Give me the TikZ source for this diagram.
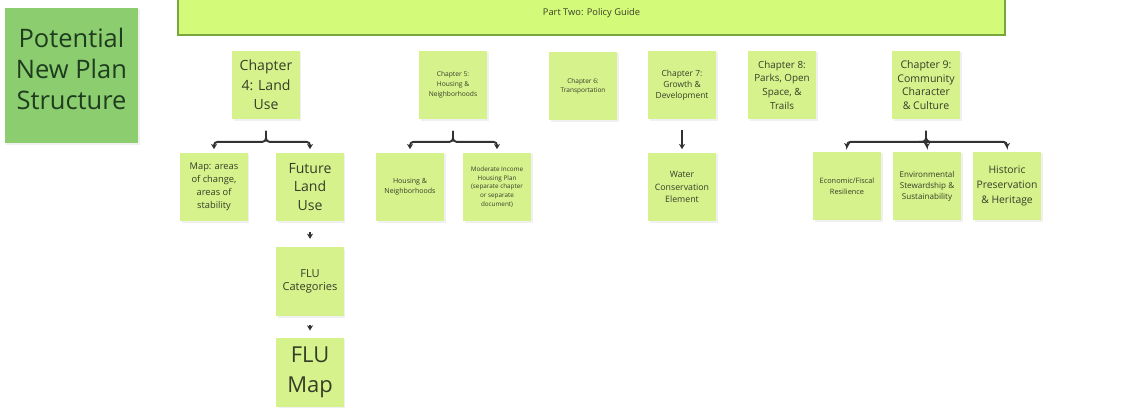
\documentclass[tikz,border=0pt]{standalone}
\usepackage{fontspec}
\setmainfont{Open Sans}
\usetikzlibrary{positioning, arrows.meta, shadows}

\definecolor{stickyfill}{RGB}{214,242,140}
\definecolor{barfill}{RGB}{212,250,122}
\definecolor{barline}{RGB}{120,165,60}
\definecolor{titlefill}{RGB}{140,205,112}
\definecolor{titleink}{RGB}{30,60,30}
\definecolor{inktext}{RGB}{55,62,40}
\definecolor{linkgray}{RGB}{50,50,50}

\begin{document}
\begin{tikzpicture}[
    x=0.02cm, y=-0.02cm,
    sticky/.style={fill=stickyfill, minimum width=1.36cm, minimum height=1.38cm,
      align=center, inner sep=1pt, text=inktext,
      drop shadow={opacity=0.12, shadow xshift=0.03cm, shadow yshift=-0.03cm}},
    fs/.style 2 args={font=\fontsize{#1}{#2}\selectfont},
    branch/.style={draw=linkgray, line width=1.1pt, rounded corners=2pt,
      -{Stealth[length=3pt, width=3.5pt]}},
    link/.style={draw=linkgray, line width=1pt, -{Stealth[length=3pt, width=3.5pt]}}
  ]

  \useasboundingbox (0,0) rectangle (1131,409);

  % title and part banner
  \fill[titlefill, drop shadow={opacity=0.12, shadow xshift=0.03cm, shadow yshift=-0.03cm}]
    (5,8) rectangle (138,143);
  \node[align=center, text=titleink, fs={14.5}{17.6}] (plan) at (71.5,69)
    {Potential\\New Plan\\Structure};
  \node[fill=barfill, draw=barline, line width=0.7pt, minimum width=16.54cm,
        minimum height=0.88cm, text=inktext, fs={5.3}{6.4}]
        (part) at (591.5,13) {Part Two: Policy Guide};

  % chapters
  \node[sticky, fs={8}{11}] (ch4) at (266,85) {Chapter\\4: Land\\Use};
  \node[sticky, fs={3.8}{5.6}] (ch5) at (453,85) {Chapter 5:\\Housing \&\\Neighborhoods};
  \node[sticky, fs={3.7}{5}] (ch6) at (583,86) {Chapter 6:\\Transportation};
  \node[sticky, fs={4.8}{6.2}] (ch7) at (682,85) {Chapter 7:\\Growth \&\\Development};
  \node[sticky, fs={5.6}{7.8}] (ch8) at (782,85) {Chapter 8:\\Parks, Open\\Space, \&\\Trails};
  \node[sticky, fs={6}{7.7}] (ch9) at (926,85) {Chapter 9:\\Community\\Character\\\& Culture};

  % chapter 4 children
  \node[sticky, fs={5.3}{7.4}] (areas) at (214,187) {Map: areas\\of change,\\areas of\\stability};
  \node[sticky, fs={8}{10.5}] (flu) at (310,187) {Future\\Land\\Use};
  \node[sticky, fs={6.3}{7.5}, below=0.5cm of flu] (flucat) {FLU\\Categories};
  \node[sticky, fs={12.5}{17}, below=0.42cm of flucat] (flumap) {FLU\\Map};

  % chapter 5 children
  \node[sticky, fs={4}{5.7}] (housing) at (410,187) {Housing \&\\Neighborhoods};
  \node[sticky, fs={3.6}{5}] (moderate) at (497,187) {Moderate Income\\Housing Plan\\(separate chapter\\or separate\\document)};

  % chapter 7 child
  \node[sticky, fs={5}{7}] (water) at (682,187) {Water\\Conservation\\Element};

  % chapter 9 children
  \node[sticky, fs={4.2}{6}] (econ) at (847,186) {Economic/Fiscal\\Resilience};
  \node[sticky, fs={4.6}{6.3}] (enviro) at (927,186) {Environmental\\Stewardship \&\\Sustainability};
  \node[sticky, fs={5.9}{8.5}] (heritage) at (1007,186) {Historic\\Preservation\\\& Heritage};

  % brackets
  \foreach \chap/\kid in {ch4/areas, ch4/flu, ch5/housing, ch5/moderate,
                          ch9/econ, ch9/enviro, ch9/heritage}
    \draw[branch, shorten <=0.22cm, shorten >=0.06cm]
      (\chap.south) -- ++(0,22) -| (\kid.north);

  % single links
  \draw[link, shorten <=0.2cm, shorten >=0.06cm] (ch7.south) -- (water.north);
  \draw[link, shorten <=0.2cm, shorten >=0.16cm] (flu.south) -- (flucat.north);
  \draw[link, shorten <=0.16cm, shorten >=0.14cm] (flucat.south) -- (flumap.north);

\end{tikzpicture}
\end{document}
